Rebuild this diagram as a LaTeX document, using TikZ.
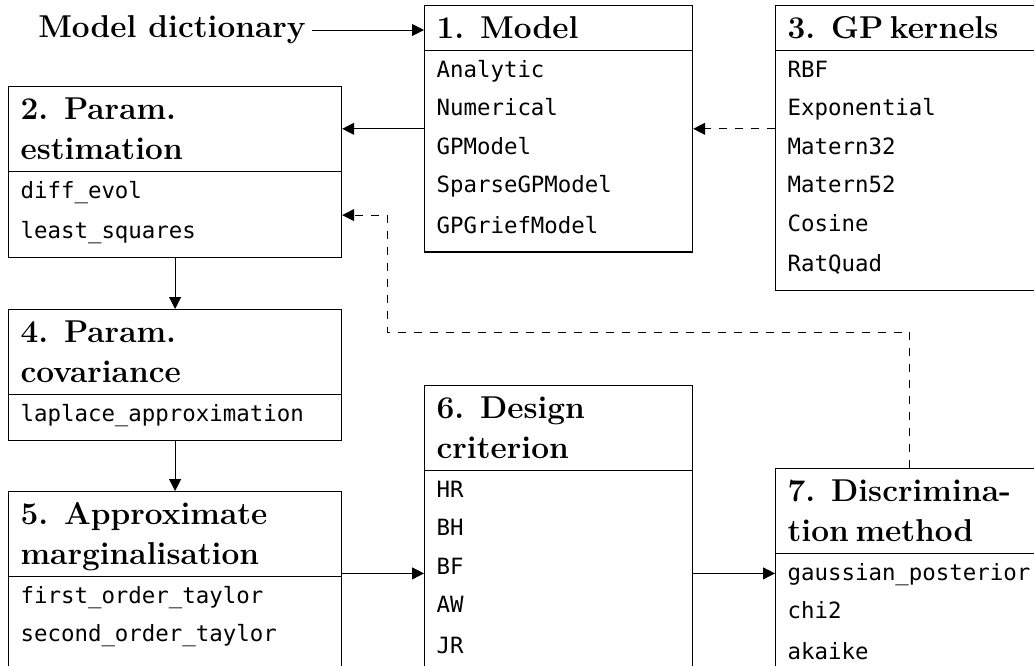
\documentclass[tikz,border=0pt]{standalone}
\usepackage{fontspec}
\setmonofont{DejaVu Sans Mono}
\usepackage{tikz}
\usetikzlibrary{shapes.multipart,arrows.meta,calc}

\newcommand{\headfont}{\fontsize{15.8}{19}\selectfont\bfseries}
\newcommand{\listfont}{\fontsize{11.2}{19.2}\selectfont\ttfamily\mdseries}
% fixed line heights for the two parts of a stage
\newcommand{\hs}{\rule[-4.4pt]{0pt}{19pt}}
\newcommand{\ls}{\rule[-7.7pt]{0pt}{19.2pt}}
% stage number with a sentence space after it
\newcommand{\nr}[1]{#1.\hspace{0.5em}}

\tikzset{
  stage/.style={rectangle split, rectangle split parts=2, draw, line width=0.6pt,
    anchor=north west, inner xsep=6pt, inner ysep=1.5pt, align=left},
  narrowstage/.style={stage, text width=122pt},
  widestage/.style={stage, text width=154.5pt},
  flow/.style={-{Triangle[length=6pt,width=6pt]}, line width=0.5pt},
  dflow/.style={flow, dash pattern=on 4pt off 4pt},
}

\begin{document}
\begin{tikzpicture}[x=0.5pt,y=0.5pt,yscale=-1]
\useasboundingbox (0,0) rectangle (1034,665);

% Text Node
\node [font=\headfont, inner sep=3pt] (dict) at (172,30) {Model dictionary};

%Shape: Rectangle split
\node [narrowstage] (model) at (424,5) {\headfont\hs \nr{1}Model
  \nodepart{two}\listfont \ls Analytic\\ \ls Numerical\\ \ls GPModel\\
  \ls SparseGPModel\\ \ls GPGriefModel};
%Shape: Rectangle split
\node [narrowstage] (kern) at (775,5) {\headfont\hs \nr{3}GP kernels
  \nodepart{two}\listfont \ls RBF\\ \ls Exponential\\ \ls Matern32\\
  \ls Matern52\\ \ls Cosine\\ \ls RatQuad};
%Shape: Rectangle split
\node [widestage] (est) at (8,86) {\headfont\hs \nr{2}Param.\\ \hs estimation
  \nodepart{two}\listfont \ls diff\_evol\\ \ls least\_squares};
%Shape: Rectangle split
\node [widestage] (cov) at (8,309) {\headfont\hs \nr{4}Param.\\ \hs covariance
  \nodepart{two}\listfont \ls laplace\_approximation};
%Shape: Rectangle split
\node [widestage] (marg) at (8,491) {\headfont\hs \nr{5}Approximate\\ \hs marginalisation
  \nodepart{two}\listfont \ls first\_order\_taylor\\ \ls second\_order\_taylor\\ \ls};
%Shape: Rectangle split
\node [narrowstage] (crit) at (424,385) {\headfont\hs \nr{6}Design\\ \hs criterion
  \nodepart{two}\listfont \ls HR\\ \ls BH\\ \ls BF\\ \ls AW\\ \ls JR};
%Shape: Rectangle split
\node [narrowstage] (disc) at (775,468) {\headfont\hs \nr{7}Discrimina-\\ \hs tion method
  \nodepart{two}\listfont \ls gaussian\_posterior\\ \ls chi2\\ \ls akaike};

%Straight Lines
\draw [flow] (dict.east) -- (dict.east -| model.west);
\draw [flow] (model.west) -- (model.west -| est.east);
\draw [dflow] (kern.west |- model.east) -- (model.east);
\draw [flow] (est.south) -- (cov.north);
\draw [flow] (cov.south) -- (marg.north);
\draw [flow] (marg.east |- disc.west) -- (crit.west |- disc.west);
\draw [flow] (crit.east |- disc.west) -- (disc.west);

%Feedback line
\coordinate (turn) at (387,332);
\coordinate (estin) at ($(est.text split east)!0.5!(est.south east)$);
\draw [dflow] (disc.north) |- (turn) |- (estin);
\end{tikzpicture}
\end{document}
